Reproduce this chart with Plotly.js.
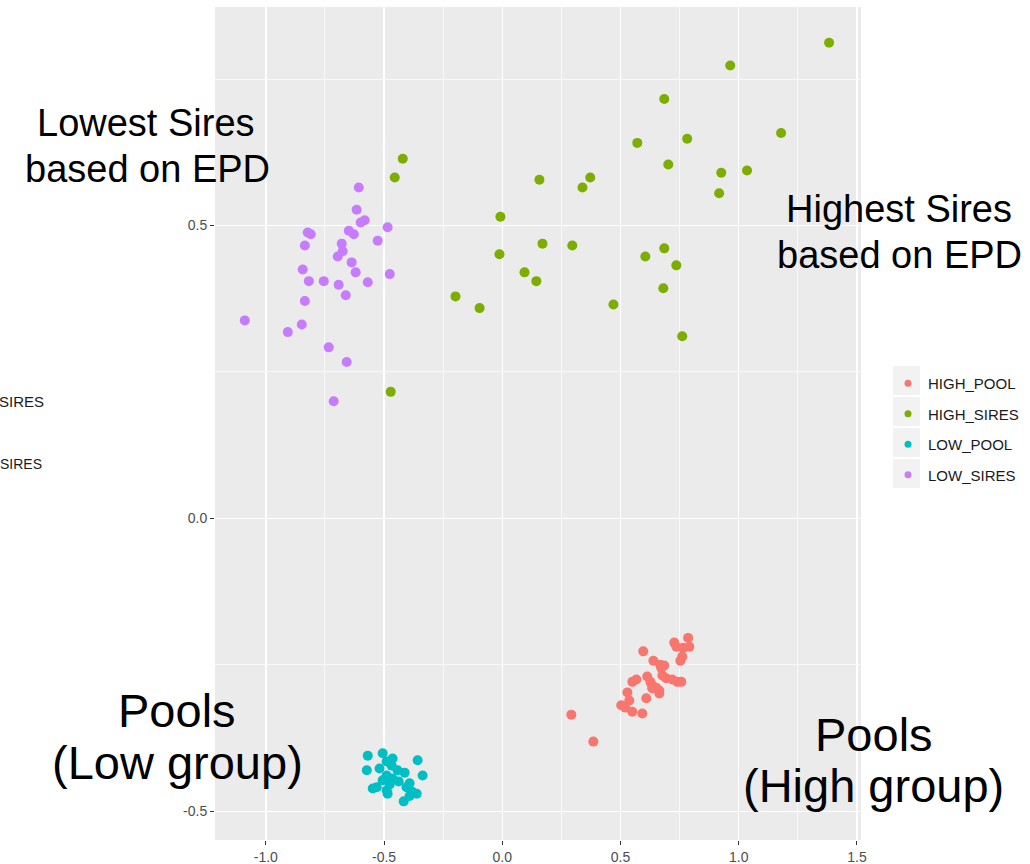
<!DOCTYPE html>
<html>
<head>
<meta charset="utf-8">
<script src="https://cdn.plot.ly/plotly-3.0.1.min.js"></script>
<style>html,body{margin:0;padding:0;background:#fff;}#plot{width:1030px;height:864px;}</style>
</head>
<body>
<div id="plot"></div>
<script>
// ---- data ----
const seriesNames = ["HIGH_POOL", "HIGH_SIRES", "LOW_POOL", "LOW_SIRES"];
const seriesColors = ["#F8766D", "#7CAE00", "#00BFC4", "#C77CFF"];

const highPoolX = [0.786,0.727,0.736,0.765,0.791,0.596,0.761,0.753,0.639,0.668,0.685,0.672,0.613,0.677,0.693,0.719,0.740,0.757,0.567,0.550,0.626,0.634,0.651,0.664,0.634,0.664,0.529,0.609,0.537,0.503,0.520,0.550,0.592,0.292,0.385];
const highPoolY = [-0.204,-0.212,-0.219,-0.221,-0.219,-0.227,-0.236,-0.243,-0.243,-0.250,-0.251,-0.255,-0.270,-0.268,-0.273,-0.275,-0.279,-0.279,-0.275,-0.279,-0.279,-0.285,-0.289,-0.294,-0.290,-0.299,-0.297,-0.307,-0.311,-0.319,-0.323,-0.330,-0.333,-0.335,-0.381];

const highSiresX = [1.382,0.964,0.685,1.179,0.571,0.782,0.702,0.926,1.035,0.917,0.157,0.372,0.339,-0.421,-0.455,-0.008,-0.012,0.170,0.296,0.685,0.605,0.736,0.094,0.144,0.681,-0.198,-0.096,0.470,0.761,-0.472];
const highSiresY = [0.812,0.773,0.716,0.658,0.641,0.648,0.604,0.590,0.594,0.555,0.578,0.582,0.565,0.614,0.582,0.515,0.451,0.469,0.466,0.461,0.447,0.432,0.420,0.405,0.393,0.379,0.359,0.365,0.311,0.216];

const lowPoolX = [-0.569,-0.506,-0.464,-0.358,-0.489,-0.468,-0.573,-0.519,-0.443,-0.413,-0.337,-0.489,-0.464,-0.506,-0.438,-0.392,-0.476,-0.531,-0.405,-0.489,-0.383,-0.362,-0.485,-0.548,-0.417,-0.392];
const lowPoolY = [-0.405,-0.401,-0.410,-0.413,-0.415,-0.422,-0.430,-0.427,-0.430,-0.434,-0.439,-0.439,-0.444,-0.447,-0.449,-0.452,-0.454,-0.459,-0.459,-0.464,-0.466,-0.470,-0.470,-0.461,-0.483,-0.474];

const lowSiresX = [-0.607,-0.616,-0.599,-0.582,-0.823,-0.810,-0.835,-0.485,-0.649,-0.628,-0.527,-0.679,-0.675,-0.696,-0.637,-0.844,-0.620,-0.476,-0.818,-0.755,-0.692,-0.569,-0.662,-0.835,-1.089,-0.907,-0.848,-0.734,-0.658,-0.713];
const lowSiresY = [0.565,0.527,0.505,0.509,0.488,0.485,0.466,0.497,0.491,0.485,0.474,0.469,0.456,0.447,0.437,0.425,0.420,0.417,0.405,0.405,0.399,0.403,0.381,0.371,0.338,0.318,0.331,0.292,0.267,0.200];

const xTickVals = [-1.0, -0.5, 0.0, 0.5, 1.0, 1.5];
const xTickText = ["-1.0", "-0.5", "0.0", "0.5", "1.0", "1.5"];
const yTickVals = [-0.5, 0.0, 0.5];
const yTickText = ["-0.5", "0.0", "0.5"];

const labelLines = ["Lowest Sires", "based on EPD", "Highest Sires", "based on EPD", "Pools", "(Low group)", "Pools", "(High group)"];
const leftEdgeText = ["SIRES", "SIRES"];

// ---- drawing ----
const FONT = "Liberation Sans, Arial, Helvetica, sans-serif";
const L = 215, R = 862, T = 7, B = 840;
const px = v => (v - L) / (R - L);
const py = v => (B - v) / (B - T);

const xs = [highPoolX, highSiresX, lowPoolX, lowSiresX];
const ys = [highPoolY, highSiresY, lowPoolY, lowSiresY];
const traces = seriesNames.map((n, i) => ({
  type: "scatter", mode: "markers", name: n, legendgroup: n, showlegend: false,
  x: xs[i], y: ys[i],
  marker: {color: seriesColors[i], size: 10, line: {width: 0}},
  hoverinfo: "x+y+name"
}));
// legend keys (no data, only the legend symbol)
seriesNames.forEach((n, i) => traces.push({
  type: "scatter", mode: "markers", name: n, legendgroup: n, showlegend: true,
  x: [null], y: [null], marker: {color: seriesColors[i], size: 7, line: {width: 0}}
}));

const ann = [];
function big(text, cx, cy, size) {
  ann.push({xref: "paper", yref: "paper", x: px(cx), y: py(cy), xanchor: "center", yanchor: "middle",
    text: text, showarrow: false, font: {family: FONT, size: size, color: "#000"}});
}
big(labelLines[0], 146, 123, 38);
big(labelLines[1], 147, 169, 38);
big(labelLines[2], 900, 209, 38);
big(labelLines[3], 901, 255, 38);
big(labelLines[4], 177, 710, 47);
big(labelLines[5], 177, 762, 47);
big(labelLines[6], 875, 734, 47);
big(labelLines[7], 875, 785, 47);

ann.push({xref: "paper", yref: "paper", x: px(45), y: py(402), xanchor: "right", yanchor: "middle",
  text: leftEdgeText[0], showarrow: false, borderpad: 0, font: {family: FONT, size: 15, color: "#1a1a1a"}});
ann.push({xref: "paper", yref: "paper", x: px(43), y: py(464), xanchor: "right", yanchor: "middle",
  text: leftEdgeText[1], showarrow: false, borderpad: 0, font: {family: FONT, size: 14, color: "#1a1a1a"}});

const shapes = [];
const keyRows = [[366, 395], [397, 426], [428, 457], [459, 488]];
keyRows.forEach(r => shapes.push({type: "rect", xref: "paper", yref: "paper", layer: "above",
  x0: px(894), x1: px(921), y0: py(r[1]), y1: py(r[0]), fillcolor: "#F2F2F2", line: {width: 0}}));

const axisCommon = {
  showline: false, zeroline: false, ticks: "outside", ticklen: 4, tickwidth: 1, tickcolor: "#333333",
  gridcolor: "#FFFFFF", gridwidth: 1.4, tickmode: "array",
  tickfont: {family: FONT, size: 14, color: "#4D4D4D"},
  minor: {dtick: 0.25, tick0: 0, showgrid: true, gridcolor: "#FFFFFF", gridwidth: 0.7, ticks: ""}
};

const layout = {
  width: 1030, height: 864,
  margin: {l: L, r: 1030 - R, t: T, b: 864 - B, pad: 0},
  paper_bgcolor: "#FFFFFF", plot_bgcolor: "#EBEBEB",
  font: {family: FONT},
  xaxis: Object.assign({}, axisCommon, {range: [-1.215, 1.517], tickvals: xTickVals, ticktext: xTickText}),
  yaxis: Object.assign({}, axisCommon, {range: [-0.549, 0.873], tickvals: yTickVals, ticktext: yTickText}),
  showlegend: true,
  legend: {x: px(888), y: py(367), xanchor: "left", yanchor: "top", bgcolor: "rgba(0,0,0,0)",
    font: {family: FONT, size: 15, color: "#1a1a1a"}, traceorder: "grouped", tracegroupgap: 8,
    itemsizing: "trace"},
  annotations: ann,
  shapes: shapes
};

Plotly.newPlot("plot", traces, layout, {displayModeBar: false, staticPlot: true});
</script>
</body>
</html>
